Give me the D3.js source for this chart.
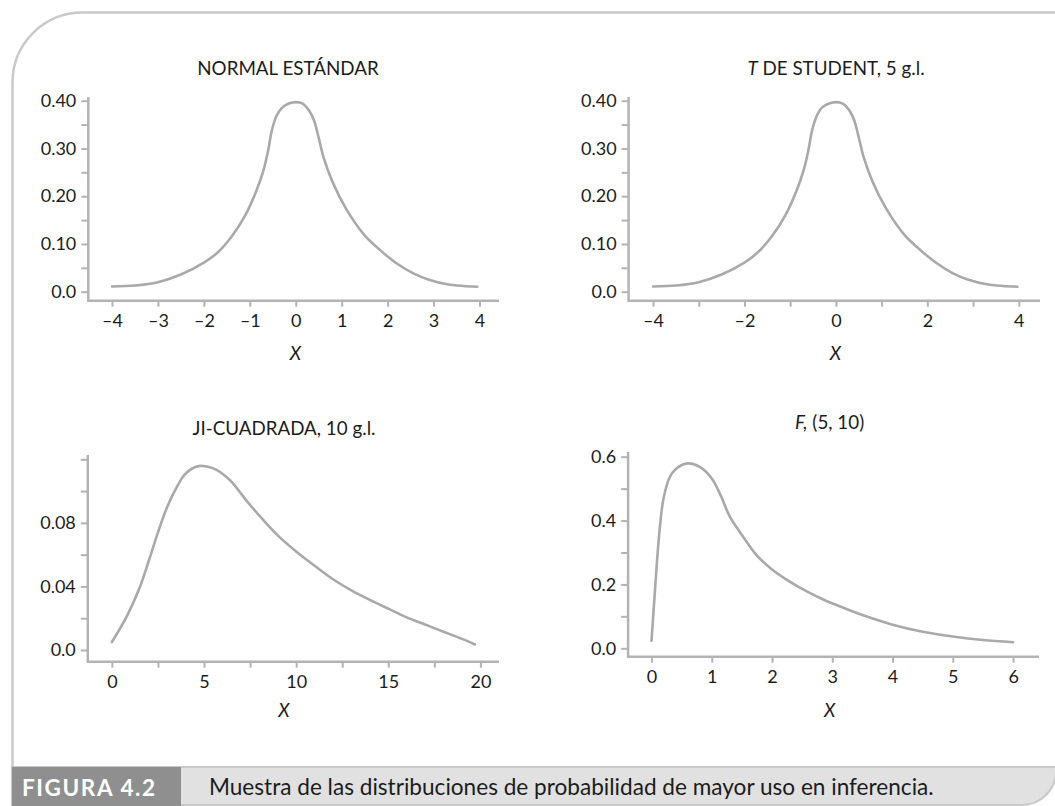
<!DOCTYPE html>
<html><head><meta charset="utf-8">
<script src="https://cdn.jsdelivr.net/npm/d3@7"></script>
<style>
html,body{margin:0;padding:0;background:#fff;}
svg text{font-family:"Lato","Open Sans",sans-serif;fill:#1c1c1c;}
</style></head>
<body><svg id="c" width="1055" height="806"></svg>
<script>
// ---- data ----
const normalX = [-4,-3.5,-3,-2.5,-2,-1.7,-1.4,-1.1,-0.85,-0.7,-0.6,-0.52,-0.42,-0.3,-0.15,0,0.15,0.3,0.4,0.5,0.6,0.8,1.1,1.5,1.85,2.2,2.55,2.9,3.3,3.65,3.95];
const normalY = [0.011,0.013,0.02,0.036,0.061,0.082,0.115,0.160,0.213,0.255,0.296,0.338,0.368,0.385,0.394,0.397,0.394,0.378,0.358,0.322,0.283,0.23,0.173,0.118,0.086,0.059,0.039,0.025,0.0155,0.012,0.0105];
const studentX = [-4,-3.5,-3,-2.5,-2,-1.7,-1.4,-1.1,-0.85,-0.7,-0.6,-0.52,-0.42,-0.3,-0.15,0,0.15,0.3,0.4,0.5,0.6,0.8,1.1,1.5,1.85,2.2,2.55,2.9,3.3,3.65,3.97];
const studentY = [0.011,0.013,0.02,0.036,0.061,0.083,0.116,0.161,0.214,0.256,0.297,0.338,0.368,0.386,0.394,0.397,0.394,0.379,0.359,0.323,0.284,0.231,0.174,0.119,0.087,0.06,0.039,0.025,0.0155,0.012,0.0105];
const chiX = [0,0.8,1.5,2,2.5,3,3.5,4,4.7,5.5,6.4,7.3,8.2,9.1,10,11,12,13,14,15,16,17,18,19,19.7];
const chiY = [0.005,0.021,0.039,0.056,0.074,0.09,0.102,0.111,0.1157,0.1143,0.107,0.094,0.082,0.071,0.062,0.053,0.0445,0.0375,0.0315,0.026,0.0205,0.016,0.0115,0.007,0.0035];
const fX = [0,0.05,0.1,0.15,0.2,0.3,0.4,0.6,0.8,1.0,1.15,1.3,1.5,1.75,2,2.3,2.6,2.85,3.1,3.5,4,4.5,5,5.5,6];
const fY = [0.024,0.16,0.295,0.40,0.47,0.535,0.561,0.579,0.568,0.532,0.478,0.412,0.355,0.29,0.247,0.208,0.176,0.153,0.133,0.104,0.074,0.052,0.037,0.026,0.019];

const normalXTicks = [-4,-3,-2,-1,0,1,2,3,4];
const normalXLabels = ["–4","–3","–2","–1","0","1","2","3","4"];
const studentXTicks = [-4,-3,-2,-1,0,1,2,3,4];
const studentXLabels = ["–4","","–2","","0","","2","","4"];
const chiXTicks = [0,2.5,5,7.5,10,12.5,15,17.5,20];
const chiXLabels = ["0","","5","","10","","15","","20"];
const fXTicks = [0,1,2,3,4,5,6];
const fXLabels = ["0","1","2","3","4","5","6"];

const normalYTicks = [0,0.05,0.1,0.15,0.2,0.25,0.3,0.35,0.4];
const normalYLabels = ["0.0","","0.10","","0.20","","0.30","","0.40"];
const chiYTicks = [0,0.02,0.04,0.06,0.08,0.10,0.12];
const chiYLabels = ["0.0","","0.04","","0.08","",""];
const fYTicks = [0,0.1,0.2,0.3,0.4,0.5,0.6];
const fYLabels = ["0.0","","0.2","","0.4","","0.6"];

const titles = ["NORMAL ESTÁNDAR","T DE STUDENT, 5 g.l.","JI-CUADRADA, 10 g.l.","F, (5, 10)"];
const captionLabel = "FIGURA 4.2";
const captionText = "Muestra de las distribuciones de probabilidad de mayor uso en inferencia.";

// ---- drawing ----
const svg = d3.select("#c");
const frameColor = "#c9c9c9";
const axisColor = "#b3b3b3";
const curveColor = "#a9a9a9";
const tickFont = "Lato, 'Open Sans', sans-serif";

// frame
svg.append("path")
  .attr("d","M12.5,768 L12.5,82 A70,70 0 0 1 82.5,12.5 L1056,12.5")
  .attr("fill","none").attr("stroke",frameColor).attr("stroke-width",2.5);

// caption band
svg.append("path")
  .attr("d","M12,767 L1056,767 L1056,771 A34,34 0 0 1 1022,805 L12,805 Z")
  .attr("fill","#e1e1e1").attr("stroke",frameColor).attr("stroke-width",2);
svg.append("rect").attr("x",12).attr("y",767).attr("width",169).attr("height",39).attr("fill","#8f8f8f");
svg.append("text").attr("x",22).attr("y",796).attr("font-size",22.5).attr("font-weight","bold")
  .attr("letter-spacing",1.6).style("fill","#fff").text(captionLabel);
svg.append("text").attr("x",209).attr("y",795).attr("font-size",22.6).text(captionText);

const panels = [
  {xs:normalX, ys:normalY, xd:[-4,4], xr:[112,479.5], yd:[0,0.4], yr:[291.7,100.7], ax:88.3, ay:300.7, atop:97, aright:499,
   xt:normalXTicks, xl:normalXLabels, yt:normalYTicks, yl:normalYLabels, title:0, tx:288, ty:75, lx:295.5, ly:359.5},
  {xs:studentX, ys:studentY, xd:[-4,4], xr:[653,1018.8], yd:[0,0.4], yr:[291.7,100.7], ax:628.6, ay:300.7, atop:97, aright:1040,
   xt:studentXTicks, xl:studentXLabels, yt:normalYTicks, yl:normalYLabels, title:1, tx:836, ty:75, lx:835.5, ly:359.5},
  {xs:chiX, ys:chiY, xd:[0,20], xr:[111.9,480.4], yd:[0,0.12], yr:[650,459.3], ax:87.8, ay:661.7, atop:455, aright:499,
   xt:chiXTicks, xl:chiXLabels, yt:chiYTicks, yl:chiYLabels, title:2, tx:284, ty:435, lx:284, ly:717},
  {xs:fX, ys:fY, xd:[0,6], xr:[651.5,1013.1], yd:[0,0.6], yr:[648.3,456.7], ax:628.1, ay:656.7, atop:452, aright:1039,
   xt:fXTicks, xl:fXLabels, yt:fYTicks, yl:fYLabels, title:3, tx:829.6, ty:428.5, lx:829.6, ly:716.5}
];

panels.forEach((p,i)=>{
  const g = svg.append("g");
  const x = d3.scaleLinear().domain(p.xd).range(p.xr);
  const y = d3.scaleLinear().domain(p.yd).range(p.yr);

  const ya = g.append("g").attr("transform",`translate(${p.ax},0)`)
    .call(d3.axisLeft(y).tickValues(p.yt).tickSize(7).tickPadding(5)
      .tickFormat((d,j)=>p.yl[j]));
  ya.select(".domain").remove();
  ya.selectAll("line").attr("stroke",axisColor).attr("stroke-width",2);
  ya.selectAll("text").attr("font-size",18).style("font-family",tickFont).attr("fill","#1c1c1c");

  const xa = g.append("g").attr("transform",`translate(0,${p.ay})`)
    .call(d3.axisBottom(x).tickValues(p.xt).tickSize(6).tickPadding(8)
      .tickFormat((d,j)=>p.xl[j]));
  xa.select(".domain").remove();
  xa.selectAll("line").attr("stroke",axisColor).attr("stroke-width",2);
  xa.selectAll("text").attr("font-size",18).style("font-family",tickFont).attr("fill","#1c1c1c");

  g.append("path").attr("d",`M${p.ax},${p.atop} L${p.ax},${p.ay} L${p.aright},${p.ay}`)
    .attr("fill","none").attr("stroke",axisColor).attr("stroke-width",2.5);

  const pts = p.xs.map((v,k)=>[v,p.ys[k]]);
  g.append("path").datum(pts)
    .attr("d", d3.line().x(d=>x(d[0])).y(d=>y(d[1])).curve(d3.curveCatmullRom.alpha(0.5)))
    .attr("fill","none").attr("stroke",curveColor).attr("stroke-width",2.6).attr("stroke-linecap","round");

  const t = g.append("text").attr("x",p.tx).attr("y",p.ty).attr("text-anchor","middle").attr("font-size",18.8);
  const tt = titles[p.title];
  if (p.title===1){
    t.append("tspan").attr("font-style","italic").text(tt.slice(0,1));
    t.append("tspan").text(tt.slice(1));
  } else if (p.title===3){
    t.append("tspan").attr("font-style","italic").text(tt.slice(0,2));
    t.append("tspan").text(tt.slice(2));
  } else t.text(tt);

  g.append("text").attr("x",p.lx).attr("y",p.ly).attr("text-anchor","middle")
    .attr("font-size",18.5).attr("font-style","italic").text("X");
});
</script></body></html>
